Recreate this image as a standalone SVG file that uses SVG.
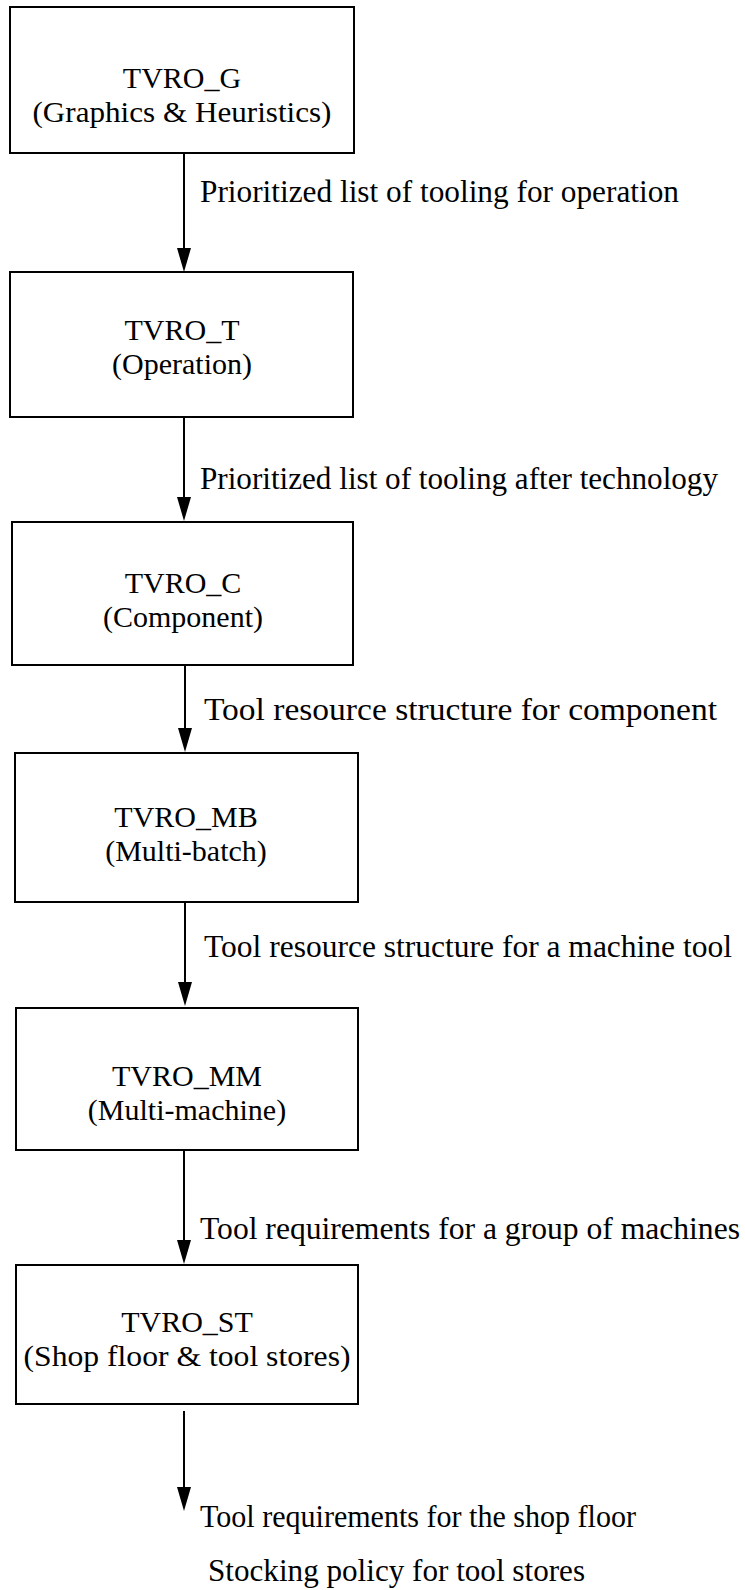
<svg xmlns="http://www.w3.org/2000/svg" width="745" height="1590" viewBox="0 0 745 1590">
<style>
.box{fill:#fff;stroke:#000;stroke-width:2}
.t{font-family:"Liberation Serif","Times New Roman",serif;font-size:31px;fill:#000}
.n{font-size:30px}
.c{text-anchor:middle}
.ln{stroke:#000;stroke-width:2;fill:none}
</style>
<rect width="745" height="1590" fill="#fff"/>
<g id="connectors">
<g id="e1"><line class="ln" x1="184" y1="153" x2="184" y2="248"/><path d="M177,248 L191,248 L184,272 Z"/>
<text class="t" x="200" y="202" textLength="479" lengthAdjust="spacingAndGlyphs">Prioritized list of tooling for operation</text></g>
<g id="e2"><line class="ln" x1="184" y1="417" x2="184" y2="497"/><path d="M177,497 L191,497 L184,521 Z"/>
<text class="t" x="200" y="489" textLength="518" lengthAdjust="spacingAndGlyphs">Prioritized list of tooling after technology</text></g>
<g id="e3"><line class="ln" x1="185" y1="665" x2="185" y2="728"/><path d="M178,728 L192,728 L185,752 Z"/>
<text class="t" x="204" y="720" textLength="513" lengthAdjust="spacingAndGlyphs">Tool resource structure for component</text></g>
<g id="e4"><line class="ln" x1="185" y1="902" x2="185" y2="982"/><path d="M178,982 L192,982 L185,1006 Z"/>
<text class="t" x="204" y="957" textLength="528" lengthAdjust="spacingAndGlyphs">Tool resource structure for a machine tool</text></g>
<g id="e5"><line class="ln" x1="184" y1="1150" x2="184" y2="1240"/><path d="M177,1240 L191,1240 L184,1264 Z"/>
<text class="t" x="200" y="1239" textLength="540" lengthAdjust="spacingAndGlyphs">Tool requirements for a group of machines</text></g>
<g id="e6"><line class="ln" x1="184" y1="1411" x2="184" y2="1487"/><path d="M177,1487 L191,1487 L184,1511 Z"/>
<text class="t" x="200" y="1527" textLength="436" lengthAdjust="spacingAndGlyphs">Tool requirements for the shop floor</text>
<text class="t" x="208" y="1581" textLength="377" lengthAdjust="spacingAndGlyphs">Stocking policy for tool stores</text></g>
</g>
<g id="n1"><rect class="box" x="10" y="7" width="344" height="146"/>
<text class="t n c" x="182" y="88">TVRO_G</text><text class="t n c" x="182" y="122" textLength="299" lengthAdjust="spacingAndGlyphs">(Graphics &amp; Heuristics)</text></g>
<g id="n2"><rect class="box" x="10" y="272" width="343" height="145"/>
<text class="t n c" x="182" y="340">TVRO_T</text><text class="t n c" x="182" y="374">(Operation)</text></g>
<g id="n3"><rect class="box" x="12" y="522" width="341" height="143"/>
<text class="t n c" x="183" y="593">TVRO_C</text><text class="t n c" x="183" y="627">(Component)</text></g>
<g id="n4"><rect class="box" x="15" y="753" width="343" height="149"/>
<text class="t n c" x="186" y="827">TVRO_MB</text><text class="t n c" x="186" y="861">(Multi-batch)</text></g>
<g id="n5"><rect class="box" x="16" y="1008" width="342" height="142"/>
<text class="t n c" x="187" y="1086">TVRO_MM</text><text class="t n c" x="187" y="1120">(Multi-machine)</text></g>
<g id="n6"><rect class="box" x="16" y="1265" width="342" height="139"/>
<text class="t n c" x="187" y="1332">TVRO_ST</text><text class="t n c" x="187" y="1366" textLength="327" lengthAdjust="spacingAndGlyphs">(Shop floor &amp; tool stores)</text></g>
</svg>
